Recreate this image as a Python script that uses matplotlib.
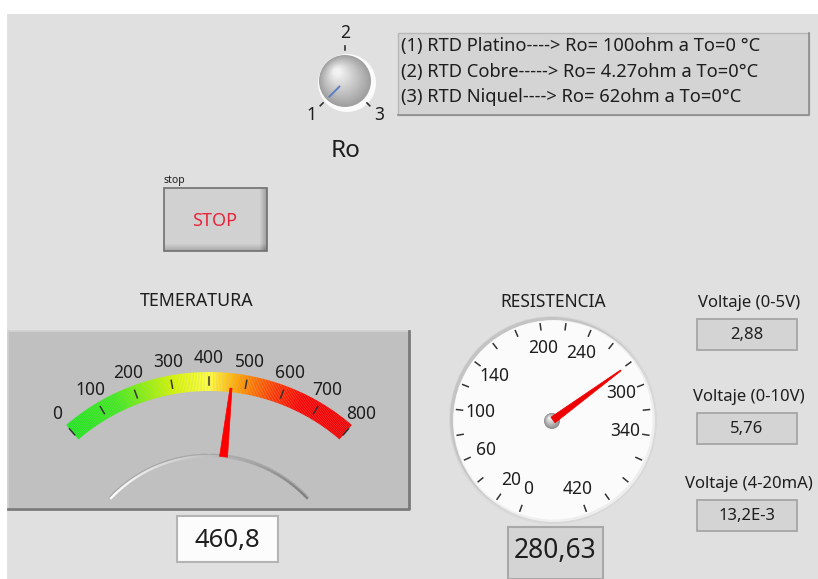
import numpy as np
import matplotlib
matplotlib.use("Agg")
import matplotlib.pyplot as plt
from matplotlib.patches import Rectangle, Circle, Polygon
from matplotlib.colors import LinearSegmentedColormap

plt.rcParams['font.family'] = ['Noto Sans', 'DejaVu Sans']

# front panel values
rtd_lines = ["(1) RTD Platino----> Ro= 100ohm a To=0 °C",
             "(2) RTD Cobre-----> Ro= 4.27ohm a To=0°C",
             "(3) RTD Niquel----> Ro= 62ohm a To=0°C"]
knob_labels = [1, 2, 3]
knob_value = 1

temp_ticks = [0, 100, 200, 300, 400, 500, 600, 700, 800]
temp_value = 460.8
temp_text = "460,8"

res_max = 420
res_labels = [0, 20, 60, 100, 140, 200, 240, 300, 340, 420]
res_value = 280.63
res_text = "280,63"

volt_names = ["Voltaje (0-5V)", "Voltaje (0-10V)", "Voltaje (4-20mA)"]
volt_values = ["2,88", "5,76", "13,2E-3"]

W, H = 818, 579
TXT = '#1e1e1e'

fig = plt.figure(figsize=(W / 100, H / 100), dpi=100)
fig.patch.set_facecolor('white')
ax = fig.add_axes([0, 0, 1, 1])
ax.set_xlim(0, W)
ax.set_ylim(H, 0)
ax.axis('off')

# panel background
ax.add_patch(Rectangle((7, 14), W - 7, H - 14, fc='#e0e0e0', ec='none'))


def polar_at(cx, cy, R, offset_deg, z=3):
    """polar axes centred on pixel (cx, cy), radius R px, clockwise"""
    pa = fig.add_axes([(cx - R) / W, 1 - (cy + R) / H, 2 * R / W, 2 * R / H],
                      projection='polar', zorder=z)
    pa.set_theta_offset(np.deg2rad(offset_deg))
    pa.set_theta_direction(-1)
    pa.set_ylim(0, R)
    pa.axis('off')
    return pa


def needle(pa, th, r0, r1, w0, w1, color):
    p = pa.transData.transform([(th, r0), (th, r1)])
    p = ax.transData.inverted().transform(p)
    d = (p[1] - p[0]) / np.hypot(*(p[1] - p[0]))
    n = np.array([-d[1], d[0]])
    pts = [p[0] + n * w0, p[1] + n * w1, p[1] - n * w1, p[0] - n * w0]
    pa.add_patch(Polygon(pts, closed=True, fc=color, ec=color, lw=0.5,
                         transform=ax.transData, zorder=5))


def ball(cx, cy, r, c0, c1, z=4):
    for k, f in enumerate(np.linspace(0, 1, 14)):
        col = np.array(matplotlib.colors.to_rgb(c0)) * (1 - f) + \
              np.array(matplotlib.colors.to_rgb(c1)) * f
        ax.add_patch(Circle((cx - 0.3 * r * f, cy - 0.35 * r * f),
                            r * (1 - 0.85 * f), fc=col, ec='none', zorder=z))


# ---------- knob Ro ----------
ax.add_patch(Circle((347, 83), 29, fc='#fbfbfb', ec='none', zorder=2))
ball(345, 81, 26, '#a0a0a0', '#f2f2f2')
kp = polar_at(345, 81, 60, 225)
kth = lambda v: np.deg2rad((v - 1) / 2 * 270)
for v in knob_labels:
    kp.plot([kth(v), kth(v)], [31, 35], color='#333333', lw=1.2)
    kp.text(kth(v), 48, str(v), ha='center', va='center', fontsize=12.5, color=TXT)
kp.plot([kth(knob_value)] * 2, [8, 22], color='#5a7ec4', lw=1.4, zorder=6)
ax.text(346, 151, "Ro", ha='center', va='center', fontsize=17.5, color=TXT)

# ---------- RTD info box ----------
ax.add_patch(Rectangle((398, 33), 411, 82, fc='#d4d4d4', ec='#b8b8b8', lw=1))
ax.plot([809, 809, 398], [33, 115, 115], color='#8c8c8c', lw=1.2)
for i, line in enumerate(rtd_lines):
    ax.text(401, 46 + 25.5 * i, line, ha='left', va='center', fontsize=13.2, color=TXT)

# ---------- STOP button ----------
ax.text(164, 180, "stop", ha='left', va='center', fontsize=7.5, color=TXT)
bw, bh = 103, 63
yy, xx = np.mgrid[0:bh, 0:bw]
shade = 0.82 - 0.22 * np.clip((xx - (bw - 8)) / 8, 0, 1) \
             - 0.18 * np.clip((yy - (bh - 8)) / 8, 0, 1)
ax.imshow(shade, cmap='gray', vmin=0, vmax=1, extent=(164, 164 + bw, 188 + bh, 188),
          interpolation='bilinear', zorder=2)
ax.add_patch(Rectangle((164, 188), bw, bh, fc='none', ec='#707070', lw=1.2, zorder=3))
ax.text(215, 221, "STOP", ha='center', va='center', fontsize=13, color='#e8253a', zorder=4)
ax.set_xlim(0, W)
ax.set_ylim(H, 0)

# ---------- temperature gauge ----------
ax.text(197, 301, "TEMERATURA", ha='center', va='center', fontsize=12.8, color=TXT)
ax.add_patch(Rectangle((8, 331), 401, 177, fc='#c0c0c0', ec='none'))
ax.plot([8, 8, 409], [508, 331, 331], color='#d2d2d2', lw=1.2)
ax.plot([8, 409, 409], [508.5, 508.5, 331], color='#7a7a7a', lw=2)

span = 81.4
tp = polar_at(209, 591, 245, 90 + span / 2)
tth = lambda v: np.deg2rad(np.asarray(v) / temp_ticks[-1] * span)
cmap = LinearSegmentedColormap.from_list('temp', [
    (0.0, '#1ee61e'), (0.18, '#40ea1c'), (0.38, '#d6f500'), (0.5, '#ffff40'),
    (0.6, '#ffa000'), (0.72, '#ff3a00'), (0.82, '#ff0000'), (1.0, '#f20000')])
edges = np.linspace(0, temp_ticks[-1], 201)
mids = (edges[:-1] + edges[1:]) / 2
tp.bar(tth(mids), 19, width=tth(edges[1]) * 1.02, bottom=200,
       color=cmap(mids / temp_ticks[-1]), edgecolor='none', linewidth=0)
for v in temp_ticks:
    tp.plot([tth(v)] * 2, [206, 214], color='#333333', lw=1.1)
    tp.text(tth(v), 233, str(v), ha='center', va='center', fontsize=12.5, color=TXT)
# bezel arc below the needle
a = np.linspace(np.deg2rad(-5.8), np.deg2rad(87.2), 60)
for k in range(len(a) - 1):
    f = k / (len(a) - 2)
    c = (1 - 0.5 * f,) * 3
    tp.plot(a[k:k + 2], [136.5, 136.5], color=(0.66, 0.66, 0.66), lw=1.2)
    tp.plot(a[k:k + 2], [135, 135], color=c, lw=1.6)
needle(tp, tth(temp_value), 135, 204, 4, 1, '#ff0000')

ax.add_patch(Rectangle((177, 516), 101, 46, fc='#fcfcfc', ec='#b4b4b4', lw=1.5))
ax.text(227, 540, temp_text, ha='center', va='center', fontsize=18.5, color=TXT)

# ---------- resistance gauge ----------
ax.text(553, 302, "RESISTENCIA", ha='center', va='center', fontsize=12.5, color=TXT)
ax.add_patch(Circle((553, 420), 104, fc='#d8d8d8', ec='none', zorder=2))
ax.add_patch(Circle((552, 419), 102, fc='#c4c4c4', ec='none', zorder=2))
ax.add_patch(Circle((554, 421), 101, fc='#eeeeee', ec='none', zorder=2))
ax.add_patch(Circle((553, 420), 99.5, fc='#fbfbfb', ec='none', zorder=2))
rp = polar_at(553, 420, 106, 250)
rth = lambda v: np.deg2rad(np.asarray(v) / res_max * 320)
for v in range(0, res_max + 1, 20):
    rp.plot([rth(v)] * 2, [91, 97], color='#333333', lw=1.1)
for v in res_labels:
    rp.text(rth(v), 73, str(v), ha='center', va='center', fontsize=12.5, color=TXT)
needle(rp, rth(res_value), 0, 84, 3.5, 0.5, '#ee0000')
ball(552, 421, 8, '#8e8e8e', '#ececec', z=6)
ax.add_patch(Rectangle((508, 527), 95, 52, fc='#d4d4d4', ec='#a8a8a8', lw=1.5))
ax.text(555, 551, res_text, ha='center', va='center', fontsize=19, color=TXT)

# ---------- voltage indicators ----------
for i, (name, val) in enumerate(zip(volt_names, volt_values)):
    y0 = [303, 397, 484][i]
    ax.text(749, y0, name, ha='center', va='center', fontsize=12, color=TXT)
    ax.add_patch(Rectangle((697, y0 + 16), 100, 31, fc='#d4d4d4', ec='#a6a6a6', lw=1.3))
    ax.text(747, y0 + 32, val, ha='center', va='center', fontsize=12, color=TXT)

fig.savefig('out.png', dpi=100, facecolor=fig.get_facecolor())
